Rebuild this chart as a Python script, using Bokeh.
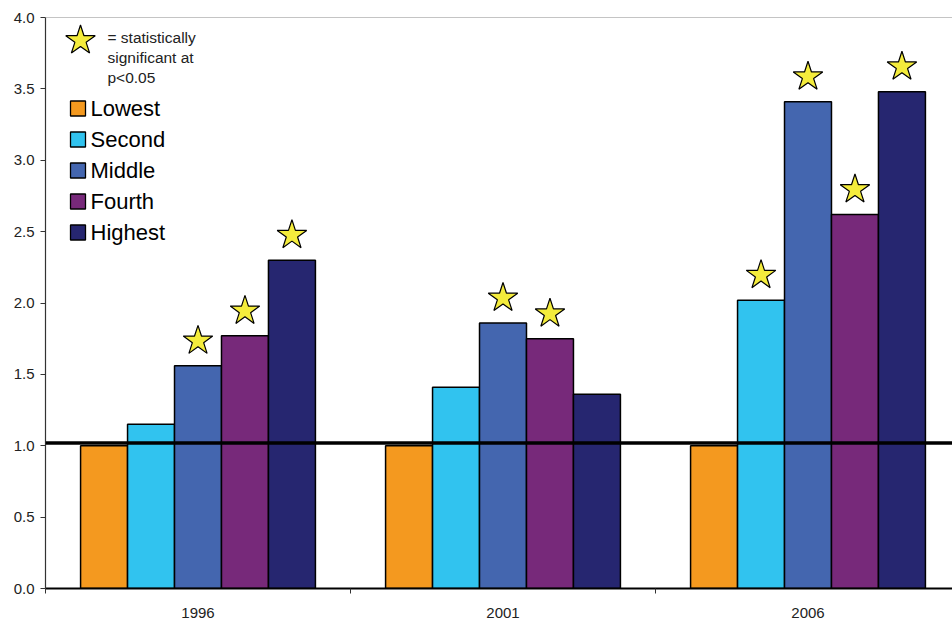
from bokeh.plotting import figure
from bokeh.models import (ColumnDataSource, Range1d, FixedTicker, Span, Label,
                          CustomJSTickFormatter)
from bokeh.embed import file_html
from bokeh.resources import INLINE

# ---- data -------------------------------------------------------------
years = ["1996", "2001", "2006"]
quintiles = ["Lowest", "Second", "Middle", "Fourth", "Highest"]
colors = ["#F4991F", "#31C3EF", "#4466AF", "#77297A", "#262670"]

lowest = [1.00, 1.00, 1.00]
second = [1.15, 1.41, 2.02]
middle = [1.56, 1.86, 3.41]
fourth = [1.77, 1.75, 2.62]
highest = [2.30, 1.36, 3.48]

# statistically significant (p<0.05) flags, one per year
sig_lowest = [False, False, False]
sig_second = [False, False, True]
sig_middle = [True, True, True]
sig_fourth = [True, True, True]
sig_highest = [True, False, True]

reference_level = 1.02
y_ticks = [0.0, 0.5, 1.0, 1.5, 2.0, 2.5, 3.0, 3.5, 4.0]

series = [lowest, second, middle, fourth, highest]
sig_flags = [sig_lowest, sig_second, sig_middle, sig_fourth, sig_highest]

# ---- figure -----------------------------------------------------------
FONT = "Liberation Sans"
FRAME_W, FRAME_H = 907, 571
CAT_PX = 305.0                       # width of one year slot in pixels
x_end = FRAME_W / CAT_PX

p = figure(frame_width=FRAME_W, frame_height=FRAME_H,
           min_border_left=45, min_border_right=0,
           min_border_top=17, min_border_bottom=31,
           x_range=Range1d(0, x_end), y_range=Range1d(0, 4.0),
           output_backend="svg", toolbar_location=None,
           background_fill_color="white", border_fill_color="white")
p.outline_line_color = None
p.grid.visible = False

bar_w = 0.154
star_gap = 0.175                     # star sits this far above its bar

for i, (name, vals, flags, col) in enumerate(zip(quintiles, series, sig_flags, colors)):
    xs = [k + 0.5 + (i - 2) * bar_w for k in range(len(years))]
    src = ColumnDataSource(dict(x=xs, top=vals))
    p.vbar(x="x", top="top", bottom=0, width=bar_w, source=src,
           fill_color=col, line_color="black", line_width=1.5)
    sx = [x for x, f in zip(xs, flags) if f]
    sy = [v + star_gap for v, f in zip(vals, flags) if f]
    p.scatter(x=sx, y=sy, marker="star", size=31,
              fill_color="#F4EC3C", line_color="black", line_width=1.2)

# reference line and top border
p.add_layout(Span(location=reference_level, dimension="width",
                  line_color="black", line_width=3.5))
p.add_layout(Span(location=4.0, dimension="width",
                  line_color="#8a8a8a", line_width=1))

# ---- axes -------------------------------------------------------------
yax = p.yaxis[0]
yax.ticker = FixedTicker(ticks=y_ticks)
yax.formatter = CustomJSTickFormatter(code="return tick.toFixed(1);")
yax.axis_line_color = "#333333"
yax.axis_line_width = 1.2
yax.major_tick_out = 5
yax.major_tick_in = 0
yax.major_tick_line_color = "#333333"
yax.minor_tick_line_color = None
yax.major_label_standoff = 6
yax.major_label_text_font = FONT
yax.major_label_text_font_size = "15px"
yax.major_label_text_color = "#222222"

xax = p.xaxis[0]
xax.ticker = FixedTicker(ticks=[k + 0.5 for k in range(len(years))],
                         minor_ticks=[float(k) for k in range(len(years) + 1)])
xax.major_label_overrides = {k + 0.5: y for k, y in enumerate(years)}
xax.axis_line_color = "black"
xax.axis_line_width = 2
xax.major_tick_line_color = None
xax.major_tick_out = 0
xax.major_tick_in = 0
xax.minor_tick_out = 5
xax.minor_tick_in = 0
xax.minor_tick_line_color = "#333333"
xax.major_label_standoff = 14
xax.major_label_text_font = FONT
xax.major_label_text_font_size = "15px"
xax.major_label_text_color = "#222222"

# ---- legend drawn in frame-pixel space ---------------------------------
p.extra_x_ranges = {"px": Range1d(0, FRAME_W)}
p.extra_y_ranges = {"px": Range1d(0, FRAME_H)}

# significance key
p.scatter(x=[35], y=[FRAME_H - 23], marker="star", size=31,
          fill_color="#F4EC3C", line_color="black", line_width=1.2,
          x_range_name="px", y_range_name="px")
for j, line in enumerate(["= statistically", "significant at", "p<0.05"]):
    p.add_layout(Label(x=62, y=FRAME_H - 20 - 20 * j, x_units="screen", y_units="screen",
                       text=line, text_font=FONT, text_font_size="15.5px",
                       text_color="#222222", text_baseline="middle"))

# quintile key
row_y = [FRAME_H - 91 - 31 * i for i in range(len(quintiles))]
p.scatter(x=[32.5] * len(quintiles), y=row_y, marker="square", size=15,
          fill_color=colors, line_color="black", line_width=1.3,
          x_range_name="px", y_range_name="px")
for name, yy in zip(quintiles, row_y):
    p.add_layout(Label(x=45, y=yy, x_units="screen", y_units="screen",
                       text=name, text_font=FONT, text_font_size="22px",
                       text_color="black", text_baseline="middle"))

open("out.html", "w").write(file_html(p, INLINE))
